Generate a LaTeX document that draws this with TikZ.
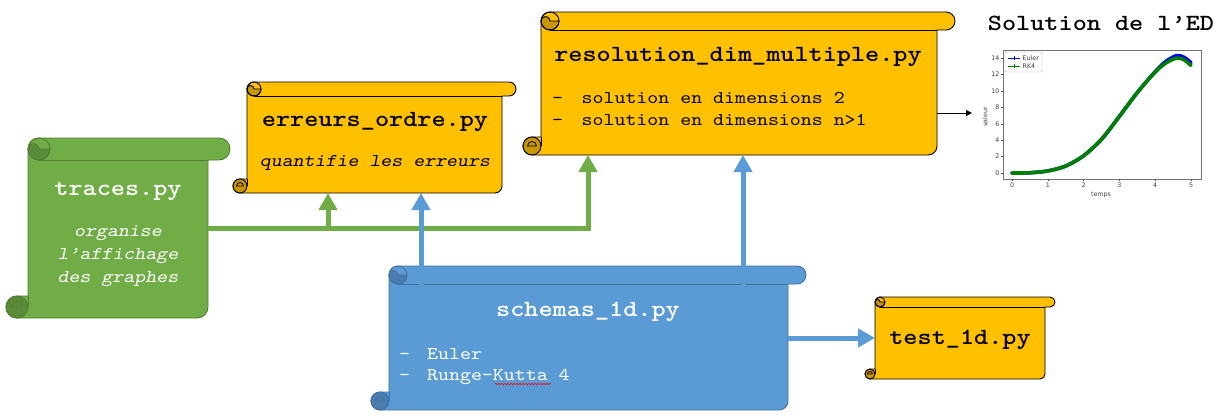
\documentclass[tikz,border=0pt]{standalone}
\usepackage{fontspec}
\newfontfamily\courlike{lmmono10-regular.otf}[BoldFont=lmmonolt10-bold.otf,ItalicFont=lmmonoslant10-regular.otf,FakeStretch=1.16]
\newfontfamily\plotfont{DejaVu Sans}
\usetikzlibrary{arrows.meta,calc,decorations.pathmorphing}

\definecolor{gold}{HTML}{FFC000}
\definecolor{golddark}{HTML}{C99600}
\definecolor{pgreen}{HTML}{70AD47}
\definecolor{pgreenline}{HTML}{507E32}
\definecolor{pgreendark}{HTML}{5A8B39}
\definecolor{pblue}{HTML}{5B9BD5}
\definecolor{pblueline}{HTML}{41719C}
\definecolor{pbluedark}{HTML}{4A7DAF}
\definecolor{mplblue}{HTML}{0000FF}
\definecolor{mplgreen}{HTML}{008000}

% name, L, T, R, B, h, fill, draw, dark
\newcommand\myscroll[9]{%
\pgfmathsetmacro\sL{#2}%
\pgfmathsetmacro\sT{#3}%
\pgfmathsetmacro\sR{#4}%
\pgfmathsetmacro\sB{#5}%
\pgfmathsetmacro\sh{#6}%
\pgfmathsetmacro\sr{#6/2}%
\pgfmathsetmacro\sq{#6/4}%
\pgfmathsetlengthmacro\srd{#6/2}%
\pgfmathsetlengthmacro\sqd{#6/4}%
\filldraw[fill=#7,draw=#8,line width=0.9pt,line join=round]
 ({\sL+\sh},{\sT+\sr}) arc[start angle=180,end angle=90,radius=\srd]
 -- ({\sR-\sr},\sT) arc[start angle=90,end angle=-90,radius=\srd]
 -- ({\sR-\sh},{\sT+\sh}) -- ({\sR-\sh},{\sB-\sr}) arc[start angle=0,end angle=-90,radius=\srd]
 -- ({\sL+\sr},\sB) arc[start angle=-90,end angle=-270,radius=\srd]
 -- ({\sL+\sh},{\sB-\sh}) -- cycle;
\draw[draw=#8,line width=0.9pt] ({\sL+\sh+\sr},{\sT+\sh}) -- ({\sR-\sh},{\sT+\sh});
\filldraw[fill=#9,draw=#8,line width=0.9pt] ({\sL+\sh+\sh},{\sT+\sr}) arc[start angle=0,end angle=-180,radius=\srd] arc[start angle=180,end angle=0,radius=\sqd] -- cycle;
\draw[draw=#8,line width=0.9pt] ({\sL+\sh+\sr},{\sT+\sr}) circle[radius=\srd];
\filldraw[fill=#9,draw=#8,line width=0.9pt] ({\sL+\sr},{\sB-\sr}) circle[radius=\srd];
\draw[draw=#8,line width=0.8pt] ({\sL+\sr+\sq},{\sB-\sr}) -- ({\sL+\sq},{\sB-\sr}) arc[start angle=180,end angle=0,radius=\sqd];
\draw[draw=#8,line width=0.9pt] ({\sL+\sh},{\sB-\sh}) -- ({\sL+\sh},{\sB-\sr});
\node[inner sep=0,outer sep=0,minimum width={(\sR-\sL-2*\sh)*1pt},minimum height={(\sB-\sT)*1pt},anchor=north west] (#1) at ({\sL+\sh},\sT) {};
}

\tikzset{
 garrow/.style={draw=pgreen,line width=5pt,line join=miter,-{Triangle[length=17pt,width=18pt]}},
 barrow/.style={draw=pblue,line width=5pt,-{Triangle[length=17pt,width=18pt]}},
 karrow/.style={draw=black,line width=1pt,-{Triangle[length=6pt,width=6pt]}},
 ftitle/.style={inner sep=0,font=\courlike\bfseries\fontsize{23.2}{28}\selectfont},
 fdesc/.style={inner sep=0,align=center,font=\courlike\itshape\fontsize{18}{23}\selectfont},
 fitem/.style={inner sep=0,anchor=west,font=\courlike\fontsize{18}{23}\selectfont},
 ticklab/.style={inner sep=0.5pt,text=black!75,font=\plotfont\fontsize{6.3}{7}\selectfont},
 tickmark/.style={draw=black!70,line width=0.4pt},
}

\begin{document}
\begin{tikzpicture}[x=1pt,y=-1pt]
\useasboundingbox (0,0) rectangle (1224,418);
\fill[white] (0,0) rectangle (1224,418);

% shapes (bodies as named nodes)
\myscroll{traces}{6}{138}{230}{318}{22}{pgreen}{pgreenline}{pgreendark}
\myscroll{erreurs}{233}{82}{516}{193}{14}{gold}{black}{golddark}
\myscroll{resol}{523}{12}{955}{155}{18}{gold}{black}{golddark}
\myscroll{schemas}{371}{266}{806}{410}{18}{pblue}{pblueline}{pbluedark}
\myscroll{test}{865}{297}{1055}{379}{10}{gold}{black}{golddark}

% connectors
\coordinate (gy) at (0,228);
\coordinate (gb) at (328,0);
\coordinate (gr) at (588,0);
\coordinate (bx1) at (421,0);
\coordinate (bx2) at (743,0);
\coordinate (ay) at (0,113);
\coordinate (plotin) at (972,113);
\draw[garrow] (traces.east |- gy) -| (gr |- resol.south);
\draw[garrow] (gb |- gy) -- (gb |- erreurs.south);
\draw[barrow] ([yshift=-19pt]bx1 |- schemas.north) -- (bx1 |- erreurs.south);
\draw[barrow] ([yshift=-19pt]bx2 |- schemas.north) -- (bx2 |- resol.south);
\draw[barrow] (schemas.east) -- (test.west);
\draw[karrow] (resol.east |- ay) -- (plotin);

% texts
\node[ftitle,text=white] (tracesT) at (118,192) {traces.py};
\node[fdesc,text=white] (tracesD) at (118,256) {organise\\l’affichage\\des graphes};
\node[ftitle] (erreursT) at (375,122) {erreurs\_ordre.py};
\node[fdesc] (erreursD) at (375,163) {quantifie les erreurs};
\node[ftitle] (resolT) at (738,57) {resolution\_dim\_multiple.py};
\node[fitem] (resolA) at (552,98) {-\hspace{18.5pt}solution en dimensions 2};
\node[fitem] (resolB) at (552,120) {-\hspace{18.5pt}solution en dimensions n>1};
\node[ftitle,text=white] (schemasT) at (588,312) {schemas\_1d.py};
\node[fitem,text=white] (schemasA) at (399,354) {-\hspace{17pt}Euler};
\node[fitem,text=white] (schemasB) at (399,377) {-\hspace{17pt}Runge-Kutta 4};
\draw[red,line width=0.6pt,decorate,decoration={snake,amplitude=0.7pt,segment length=3pt}] (495,384) -- (551,384);
\node[ftitle] (testT) at (960,340) {test\_1d.py};

% plot
\node[ftitle] (plotT) at (1101,23) {Solution de l’ED};
\draw[black!55,line width=0.5pt] (1003,50) rectangle (1201,179);
\foreach \v in {0,2,...,14} {
  \node[ticklab,anchor=east] (yt\v) at (1000,{173-8.21*\v}) {\v};
  \draw[tickmark] (1001,{173-8.21*\v}) -- (1003,{173-8.21*\v});
}
\foreach \t in {0,...,5} {
  \node[ticklab,anchor=north] (xt\t) at ({1012+35.8*\t},182) {\t};
  \draw[tickmark] ({1012+35.8*\t},179) -- ({1012+35.8*\t},181);
}
\node[ticklab,rotate=90] (ylab) at (985,117) {valeur};
\node[ticklab] (xlab) at (1101,195) {temps};
\begin{scope}[shift={(1012,173)},x=35.8pt,y=8.21pt]
\draw[mplblue,line width=3.6pt,line cap=round] plot[smooth] coordinates {(0,0) (0.5,0.03) (1,0.25) (1.5,0.85) (2,2.1) (2.5,4.1) (3,6.9) (3.5,9.8) (4,12.35) (4.3,13.6) (4.6,14.3) (4.8,14.1) (5,13.45)};
\draw[mplgreen,line width=3.6pt,line cap=round] plot[smooth] coordinates {(0,0) (0.5,0.03) (1,0.25) (1.5,0.85) (2,2.1) (2.5,4.1) (3,6.9) (3.5,9.8) (4,12.3) (4.3,13.4) (4.6,14.0) (4.8,13.8) (5,13.1)};
\end{scope}
\draw[black!30,fill=white,line width=0.4pt,rounded corners=1pt] (1005,52) rectangle (1042,72);
\draw[mplblue,line width=0.9pt] (1008,58) -- (1020,58) (1014,56) -- (1014,60);
\node[ticklab,anchor=west] (legE) at (1022,58) {Euler};
\draw[mplgreen,line width=0.9pt] (1008,66) -- (1020,66) (1014,64) -- (1014,68);
\node[ticklab,anchor=west] (legR) at (1022,66) {RK4};
\end{tikzpicture}
\end{document}
